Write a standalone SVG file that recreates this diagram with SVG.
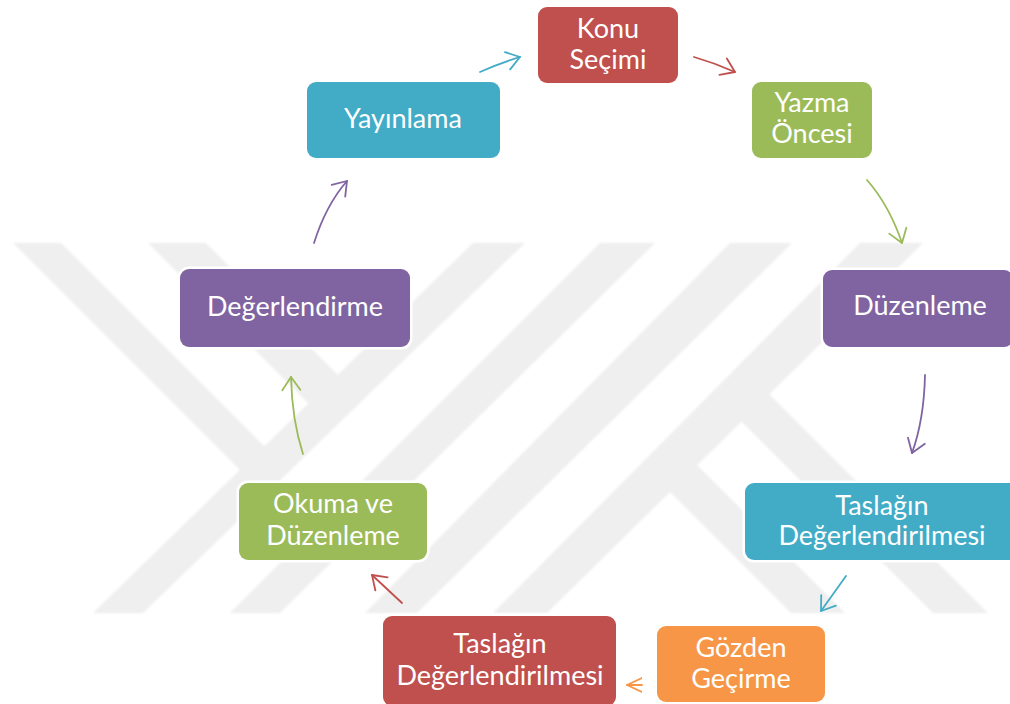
<svg xmlns="http://www.w3.org/2000/svg" width="1010" height="704" viewBox="0 0 1010 704">
<style>
.wm{fill:#efefef}
.box{stroke:#ffffff;stroke-width:5;paint-order:stroke}
.red{fill:#C0504D}.green{fill:#9BBB59}.purple{fill:#8064A2}.blue{fill:#42ABC6}.orange{fill:#F79646}
.lbl{font-family:Lato,"Liberation Sans",sans-serif;font-size:27px;fill:#ffffff;text-anchor:middle}
.c{fill:none;stroke-width:1.8;stroke-linecap:round}
</style>
<defs>
<filter id="soft" x="-5%" y="-5%" width="110%" height="110%"><feGaussianBlur stdDeviation="0.8"/></filter>
<marker id="mBlue" markerUnits="userSpaceOnUse" markerWidth="30" markerHeight="30" viewBox="-15 -15 30 30" refX="0" refY="0" orient="auto"><path d="M-13,-9 L0,0 L-13,9" fill="none" stroke="#42ABC6" stroke-width="1.8" stroke-linecap="round" stroke-linejoin="round"/></marker>
<marker id="mRed" markerUnits="userSpaceOnUse" markerWidth="30" markerHeight="30" viewBox="-15 -15 30 30" refX="0" refY="0" orient="auto"><path d="M-13,-9 L0,0 L-13,9" fill="none" stroke="#C0504D" stroke-width="1.8" stroke-linecap="round" stroke-linejoin="round"/></marker>
<marker id="mGreen" markerUnits="userSpaceOnUse" markerWidth="30" markerHeight="30" viewBox="-15 -15 30 30" refX="0" refY="0" orient="auto"><path d="M-13,-9 L0,0 L-13,9" fill="none" stroke="#9BBB59" stroke-width="1.8" stroke-linecap="round" stroke-linejoin="round"/></marker>
<marker id="mPurple" markerUnits="userSpaceOnUse" markerWidth="30" markerHeight="30" viewBox="-15 -15 30 30" refX="0" refY="0" orient="auto"><path d="M-13,-9 L0,0 L-13,9" fill="none" stroke="#8064A2" stroke-width="1.8" stroke-linecap="round" stroke-linejoin="round"/></marker>
<marker id="mOrange" markerUnits="userSpaceOnUse" markerWidth="30" markerHeight="30" viewBox="-15 -15 30 30" refX="0" refY="0" orient="auto"><path d="M-17,-8 L0,0 L-17,8" fill="none" stroke="#F79646" stroke-width="1.8" stroke-linecap="round" stroke-linejoin="round"/></marker>
</defs>
<rect width="1010" height="704" fill="#ffffff"/>
<g id="watermark" filter="url(#soft)">
<polygon class="wm" points="473,243 525,243 143,613 93,613"/>
<polygon class="wm" points="600,243 655,243 280,613 230,613"/>
<polygon class="wm" points="730,243 792,243 417,613 365,613"/>
<polygon class="wm" points="860,243 923,243 547,613 493,613"/>
<polygon class="wm" points="13,243 61,243 280,462 256,486"/>
<polygon class="wm" points="148,243 206,243 355,392 325,420"/>
<polygon class="wm" points="685,453 845,613 791,613 655,477"/>
<polygon class="wm" points="760,385 988,613 933,613 733,413"/>
</g>
<g id="connectors">
<path class="c" stroke="#42ABC6" marker-end="url(#mBlue)" d="M480,72 Q500,63 520,57"/>
<path class="c" stroke="#C0504D" marker-end="url(#mRed)" d="M694,57 Q715,63 735,72"/>
<path class="c" stroke="#9BBB59" marker-end="url(#mGreen)" d="M867,180 Q889,205 902,243"/>
<path class="c" stroke="#8064A2" marker-end="url(#mPurple)" d="M925,375 Q924,420 912,453"/>
<path class="c" stroke="#42ABC6" marker-end="url(#mBlue)" d="M846,576 L821,611"/>
<path class="c" stroke="#F79646" marker-end="url(#mOrange)" d="M642,685 L627,685"/>
<path class="c" stroke="#C0504D" marker-end="url(#mRed)" d="M402,603 L372,575"/>
<path class="c" stroke="#9BBB59" marker-end="url(#mGreen)" d="M303,454 Q292,420 291,377"/>
<path class="c" stroke="#8064A2" marker-end="url(#mPurple)" d="M314,243 Q326,205 347,181"/>
</g>
<g id="node-konu-secimi">
<rect class="box red" x="538" y="7" width="140" height="76" rx="9"/>
<text class="lbl" x="608" y="38">Konu</text>
<text class="lbl" x="608" y="69">Seçimi</text>
</g>
<g id="node-yazma-oncesi">
<rect class="box green" x="752" y="82" width="120" height="76" rx="9"/>
<text class="lbl" x="812" y="112">Yazma</text>
<text class="lbl" x="812" y="143">Öncesi</text>
</g>
<g id="node-duzenleme">
<rect class="box purple" x="823" y="270" width="190" height="77" rx="9"/>
<text class="lbl" x="920" y="315">Düzenleme</text>
</g>
<g id="node-taslak-degerlendirme-1">
<rect class="box blue" x="745" y="483" width="275" height="77" rx="9"/>
<text class="lbl" x="882" y="515">Taslağın</text>
<text class="lbl" x="882" y="545">Değerlendirilmesi</text>
</g>
<g id="node-gozden-gecirme">
<rect class="box orange" x="657" y="626" width="168" height="76" rx="9"/>
<text class="lbl" x="741" y="657">Gözden</text>
<text class="lbl" x="741" y="688">Geçirme</text>
</g>
<g id="node-taslak-degerlendirme-2">
<rect class="box red" x="383" y="616" width="233" height="90" rx="9"/>
<text class="lbl" x="500" y="653">Taslağın</text>
<text class="lbl" x="500" y="685">Değerlendirilmesi</text>
</g>
<g id="node-okuma-duzenleme">
<rect class="box green" x="239" y="483" width="188" height="77" rx="9"/>
<text class="lbl" x="333" y="513">Okuma ve</text>
<text class="lbl" x="333" y="545">Düzenleme</text>
</g>
<g id="node-degerlendirme">
<rect class="box purple" x="180" y="269" width="230" height="78" rx="9"/>
<text class="lbl" x="295" y="316">Değerlendirme</text>
</g>
<g id="node-yayinlama">
<rect class="box blue" x="307" y="82" width="193" height="76" rx="9"/>
<text class="lbl" x="403" y="128">Yayınlama</text>
</g>
</svg>
